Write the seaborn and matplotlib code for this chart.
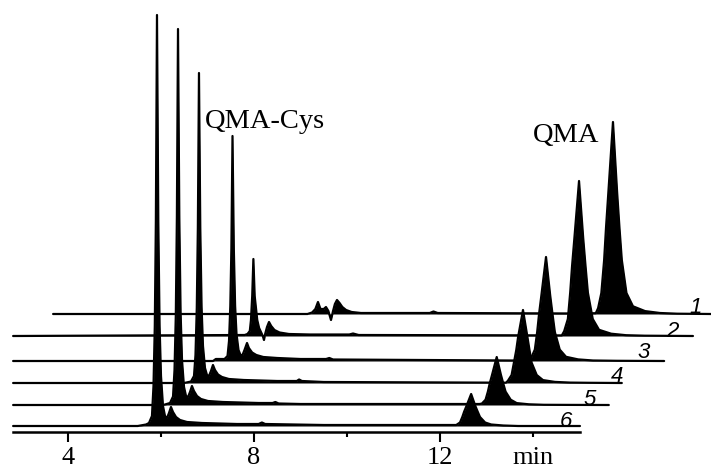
import matplotlib
matplotlib.use('Agg')
import matplotlib.pyplot as plt
import seaborn as sns
import pandas as pd

# Chromatograms: retention time (min) and signal (a.u.)
# trace 1 is the top one, trace 6 the bottom one
t1 = [3.68, 9.15, 9.25, 9.32, 9.376, 9.43, 9.50, 9.548, 9.60, 9.656, 9.70, 9.74, 9.785,
      9.84, 9.90, 9.98, 10.10, 10.30, 11.78, 11.86, 11.95, 15.0, 15.35, 15.40, 15.47,
      15.53, 15.57, 15.62, 15.72, 15.81, 15.86, 15.91, 16.01, 16.15, 16.41, 16.73, 17.10, 17.83]
s1 = [0, 0, 1.5, 5, 12, 5, 5, 7, 3, -6, 3, 10, 14,
      11, 7, 4, 2, 1, 1, 2.5, 1, 0.5, 0.8, 5.8, 21,
      54, 86, 121, 192, 121, 86, 54, 21, 7.7, 2.9, 1, 0.3, 0]

t2 = [2.82, 7.80, 7.86, 7.91, 7.935, 7.962, 7.987, 8.015, 8.07, 8.11, 8.16, 8.19, 8.215,
      8.24, 8.28, 8.323, 8.37, 8.44, 8.55, 8.75, 9.20, 10.05, 10.13, 10.25, 14.62, 14.67,
      14.75, 14.80, 14.84, 14.89, 14.99, 15.08, 15.13, 15.18, 15.285, 15.42, 15.68, 16.00,
      16.4, 17.44]
s2 = [0, 1, 2, 5, 16, 40, 77, 40, 16, 8, 3, 0, -4,
      2, 9, 14, 10, 6, 3.5, 2, 1.5, 1.5, 2.5, 1, 0.6, 4.7,
      17, 43.4, 69.8, 97.7, 155, 97.7, 69.8, 43.4, 17, 6.2, 2.3, 0.8,
      0.3, 0]

t3 = [2.82, 7.12, 7.18, 7.30, 7.366, 7.431, 7.463, 7.491, 7.514, 7.538, 7.566, 7.594,
      7.624, 7.667, 7.710, 7.753, 7.796, 7.85, 7.89, 7.96, 8.05, 8.20, 8.50, 9.00, 9.55,
      9.62, 9.70, 13.91, 13.96, 14.04, 14.09, 14.13, 14.18, 14.28, 14.37, 14.42, 14.47,
      14.575, 14.71, 14.97, 15.29, 15.8, 16.82]
s3 = [0, 0, 2, 2, 2, 5, 20, 55, 112.5, 225, 112.5, 55,
      27, 11, 6, 6, 11, 18, 13, 8.5, 6, 4, 3, 2, 2,
      3, 1.5, 0.4, 3.1, 11.4, 29, 46.8, 65.5, 104, 65.5, 46.8, 29,
      11.4, 4.2, 1.6, 0.5, 0.2, 0]

t4 = [2.82, 6.50, 6.645, 6.710, 6.742, 6.770, 6.793, 6.817, 6.845, 6.873, 6.903, 6.946,
      6.989, 7.032, 7.075, 7.118, 7.161, 7.226, 7.312, 7.46, 7.78, 8.50, 8.92, 8.97, 9.03,
      9.5, 13.42, 13.46, 13.54, 13.59, 13.64, 13.68, 13.785, 13.88, 13.925, 13.97, 14.08,
      14.215, 14.47, 14.80, 15.2, 15.91]
s4 = [0, 0, 1.5, 7, 28, 75, 155, 310, 155, 76, 37, 15,
      8, 7, 12, 18, 13, 8.5, 6, 4, 3, 2, 2, 3.5, 2,
      1, 0.3, 2.2, 8, 20.4, 32.9, 46, 73, 46, 32.9, 20.4, 8,
      2.9, 1.1, 0.4, 0.2, 0]

t5 = [2.82, 6.05, 6.194, 6.259, 6.291, 6.319, 6.342, 6.366, 6.394, 6.422, 6.452, 6.495,
      6.538, 6.581, 6.624, 6.666, 6.709, 6.774, 6.860, 7.010, 7.33, 8.10, 8.40, 8.46, 8.53,
      9.0, 12.85, 12.90, 12.98, 13.03, 13.07, 13.12, 13.22, 13.31, 13.36, 13.41, 13.52,
      13.65, 13.91, 14.23, 14.8, 15.63]
s5 = [0, 0, 2, 8.5, 35, 90, 188, 376, 188, 92, 45, 18,
      9, 8, 13, 19, 14, 9, 6, 4, 3, 2, 2, 3, 1.5,
      1, 1, 1.4, 5.3, 13.4, 21.6, 30.2, 48, 30.2, 21.6, 13.4, 5.3,
      1.9, 0.7, 0.2, 0.1, 0]

t6 = [2.82, 5.50, 5.68, 5.742, 5.806, 5.839, 5.867, 5.890, 5.914, 5.942, 5.970, 6.000,
      6.043, 6.086, 6.129, 6.172, 6.215, 6.258, 6.323, 6.409, 6.559, 6.882, 7.634, 8.10,
      8.17, 8.24, 9.5, 12.30, 12.35, 12.43, 12.48, 12.52, 12.57, 12.67, 12.76, 12.81,
      12.86, 12.97, 13.10, 13.36, 13.68, 15.01]
s6 = [0, 0, 1.5, 3, 10, 40, 100, 205, 411, 205, 100, 50,
      20, 10, 8, 13, 19, 14, 9, 6, 4, 3, 2, 2,
      3.5, 2, 1, 1, 1, 3.5, 9, 14.4, 20, 32, 20, 14.4,
      9, 3.5, 1.5, 0.5, 0, 0]

trace_names = ['1', '2', '3', '4', '5', '6']
major_ticks = [4, 8, 12]
major_labels = ['4', '8', '12']
minor_ticks = [6, 10, 14]
minor_labels = ['', '', 'min']

# stacking layout (vertical baseline of each trace, number label placement)
offsets = [159, 137, 112, 90, 68, 47]
name_x = [17.505, 16.99, 16.37, 15.81, 15.22, 14.71]
name_y = [160, 136, 115, 91, 68, 46]

sns.set_theme(style="white")
plt.rcParams['font.family'] = ['Liberation Serif', 'DejaVu Serif']
plt.rcParams.update({'text.color': 'black', 'xtick.color': 'black',
                     'axes.labelcolor': 'black'})

fig = plt.figure(figsize=(7.11, 4.73), dpi=100)
ax = fig.add_axes([0, 0, 1, 1])

traces = [(t1, s1), (t2, s2), (t3, s3), (t4, s4), (t5, s5), (t6, s6)]
for (t, s), off, name, nx, ny in zip(traces, offsets, trace_names, name_x, name_y):
    df = pd.DataFrame({'time': t, 'signal': s})
    df['y'] = df['signal'] + off
    ax.fill_between(df['time'], off, df['y'], color='black', linewidth=0)
    sns.lineplot(data=df, x='time', y='y', ax=ax, color='black', linewidth=1.6,
                 estimator=None)
    ax.text(nx, ny, name, family='Liberation Sans', style='italic', fontsize=16,
            color='black', ha='center', va='baseline')

ax.text(6.946, 345, 'QMA-Cys', fontsize=20.5, color='black', ha='left', va='baseline')
ax.text(14.0, 331, 'QMA', fontsize=20.5, color='black', ha='left', va='baseline')

ax.set_xlim(2.538, 17.828)
ax.set_ylim(0, 473)
ax.set_xlabel('')
ax.set_ylabel('')
ax.set_yticks([])

for side in ['left', 'right', 'top']:
    ax.spines[side].set_visible(False)
ax.spines['bottom'].set_position(('data', 41))
ax.spines['bottom'].set_bounds(2.82, 15.01)
ax.spines['bottom'].set_linewidth(1.8)
ax.spines['bottom'].set_color('black')

ax.set_xticks(major_ticks)
ax.set_xticklabels(major_labels)
ax.set_xticks(minor_ticks, minor=True)
ax.set_xticklabels(minor_labels, minor=True)
ax.tick_params(axis='x', which='major', direction='out', length=7.5, width=1.5,
               pad=3, labelsize=19, colors='black', bottom=True)
ax.tick_params(axis='x', which='minor', direction='out', length=3.5, width=1.5,
               pad=7, labelsize=19, colors='black', bottom=True)
ax.patch.set_alpha(0)

fig.savefig('out.png', dpi=100, facecolor='white')
plt.close(fig)
